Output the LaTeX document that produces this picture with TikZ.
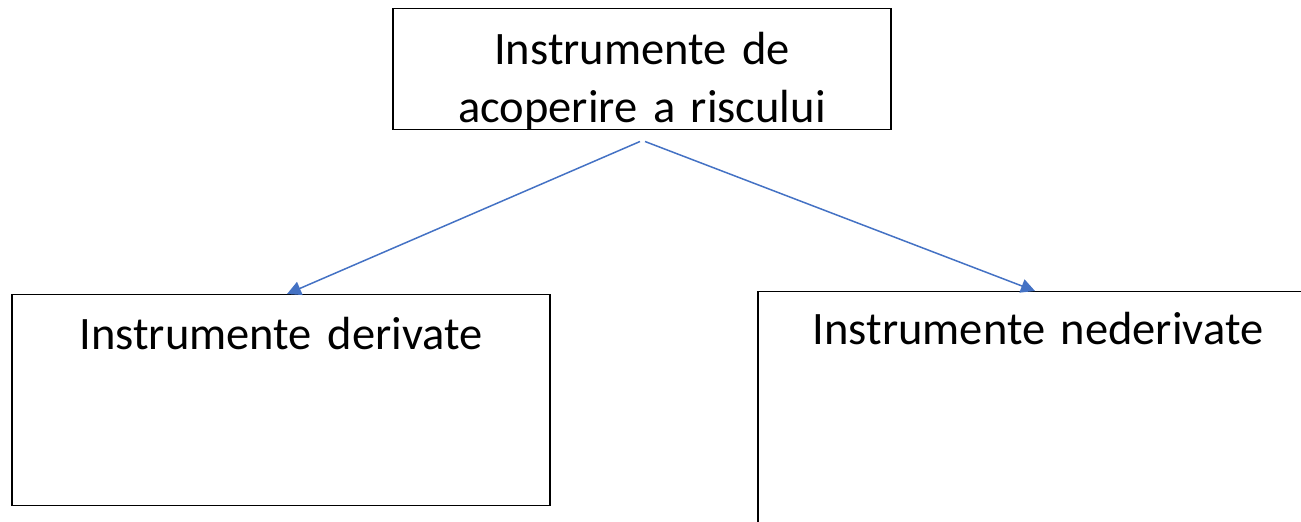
\documentclass[tikz,border=0pt]{standalone}
\usepackage{fontspec}
\setmainfont{Carlito}
\usetikzlibrary{arrows.meta}
\definecolor{linkblue}{HTML}{4472C4}

\begin{document}
\begin{tikzpicture}[x=0.5pt, y=-0.5pt,
	box/.style={draw=black, line width=0.75pt, inner sep=0pt, anchor=north, align=center, font=\fontsize{23.25}{29}\selectfont},
	link/.style={draw=linkblue, line width=0.75pt, -{Triangle[length=7pt,width=7pt]}}]

	\useasboundingbox (0,0) rectangle (1301,522);
	\clip (0,0) rectangle (1301,522);

	% boxes
	\node[box, text width=249pt, text height=28pt, text depth=32.5pt] (cover) at (642,8) {Instrumente de\\acoperire a riscului};
	\node[box, text width=269pt, text height=27.5pt, text depth=78pt] (deriv) at (281,294) {Instrumente derivate};
	\node[box, text width=280pt, text height=26.5pt, text depth=120pt] (nonderiv) at (1038,291) {Instrumente nederivate};

	% links
	\draw[link] ([xshift=-1pt, yshift=-5.5pt]cover.south) -- ([xshift=3pt]deriv.north);
	\draw[link] ([xshift=1.5pt, yshift=-5.5pt]cover.south) -- ([xshift=-1.5pt]nonderiv.north);

\end{tikzpicture}
\end{document}
